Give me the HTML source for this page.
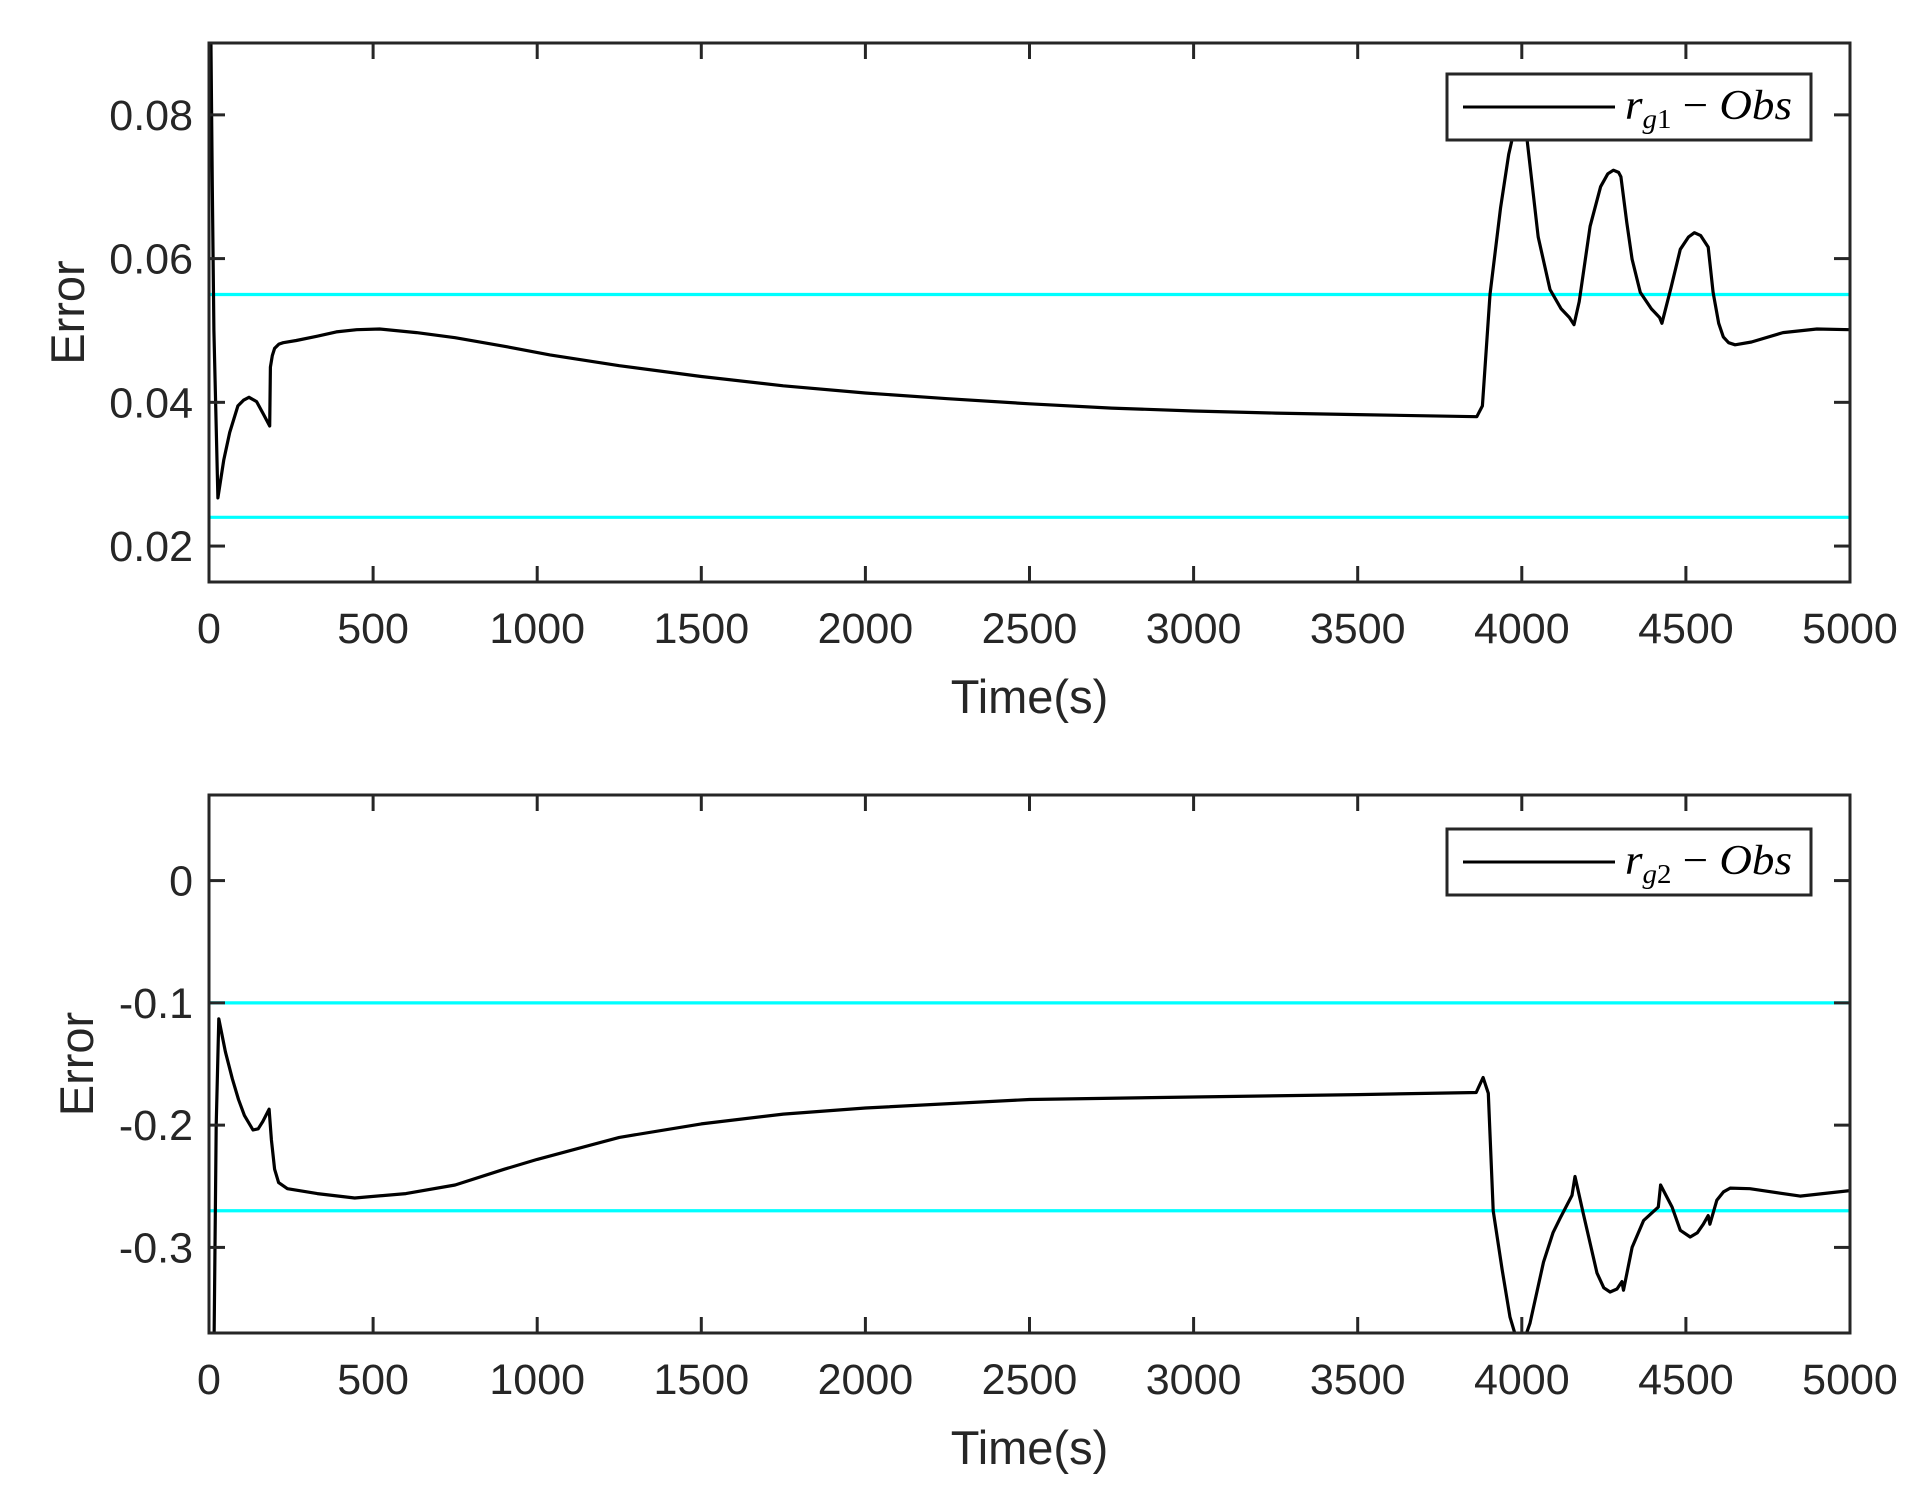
<!DOCTYPE html>
<html><head><meta charset="utf-8"><style>
html,body{margin:0;padding:0;background:#fff;}
svg{display:block;font-family:"Liberation Sans",sans-serif;}
</style></head><body>
<svg id="chart" width="1917" height="1493" viewBox="0 0 1917 1493" xmlns="http://www.w3.org/2000/svg"></svg>
<script>
const xTicks = [0,500,1000,1500,2000,2500,3000,3500,4000,4500,5000];
const y1Ticks = [0.02,0.04,0.06,0.08];
const y1Labels = ["0.02","0.04","0.06","0.08"];
const y2Ticks = [-0.3,-0.2,-0.1,0];
const y2Labels = ["-0.3","-0.2","-0.1","0"];
const bounds1 = [0.055, 0.024];
const bounds2 = [-0.1, -0.27];
const t1 = [0,5,10,15,27,45,63,88,105,122,145,165,185,187,193,200,213,226,266,330,388,450,520,632,750,900,1039,1250,1500,1750,2000,2250,2500,2750,3000,3250,3500,3863,3880,3903,3935,3960,3975,3989,4003,4016,4050,4086,4120,4145,4159,4175,4208,4240,4262,4279,4295,4302,4320,4336,4361,4395,4420,4427,4455,4483,4508,4526,4545,4568,4583,4600,4614,4630,4650,4700,4796,4899,5000];
const v1 = [0.095,0.095,0.07,0.05,0.0267,0.032,0.0358,0.0395,0.0403,0.0407,0.0401,0.0384,0.0367,0.0449,0.0465,0.0475,0.0481,0.0483,0.0486,0.0492,0.0498,0.0501,0.0502,0.0497,0.0490,0.0478,0.0466,0.0451,0.0436,0.0423,0.0413,0.0405,0.0398,0.0392,0.0388,0.0385,0.0383,0.0380,0.0395,0.0550,0.067,0.0745,0.0775,0.0790,0.0788,0.0765,0.0630,0.0557,0.0530,0.0518,0.0508,0.0540,0.0645,0.0700,0.0718,0.0723,0.0720,0.0714,0.0650,0.0599,0.0553,0.0530,0.0518,0.0510,0.0560,0.0613,0.0630,0.0636,0.0632,0.0616,0.0553,0.0510,0.0491,0.0483,0.0480,0.0484,0.0497,0.0502,0.0501];
const t2 = [0,15,22,30,50,71,90,108,134,150,164,183,190,200,212,239,330,444,600,750,900,1000,1250,1500,1750,2000,2500,3000,3500,3861,3882,3898,3913,3940,3964,3995,4025,4066,4095,4117,4153,4162,4187,4229,4250,4269,4290,4305,4310,4336,4371,4416,4423,4458,4483,4513,4535,4553,4568,4573,4594,4615,4635,4695,4848,5000];
const v2 = [-0.40,-0.39,-0.20,-0.113,-0.140,-0.162,-0.179,-0.192,-0.204,-0.203,-0.197,-0.187,-0.212,-0.236,-0.247,-0.252,-0.256,-0.2596,-0.256,-0.249,-0.236,-0.228,-0.210,-0.199,-0.191,-0.186,-0.179,-0.177,-0.175,-0.1733,-0.161,-0.174,-0.27,-0.318,-0.357,-0.385,-0.362,-0.312,-0.288,-0.276,-0.2575,-0.242,-0.272,-0.321,-0.333,-0.3365,-0.334,-0.328,-0.335,-0.300,-0.278,-0.267,-0.249,-0.267,-0.286,-0.2915,-0.288,-0.281,-0.274,-0.281,-0.2615,-0.2545,-0.2515,-0.252,-0.258,-0.2535];

const NS="http://www.w3.org/2000/svg";
const svg=document.getElementById('chart');
function mk(tag,attrs,parent){const e=document.createElementNS(NS,tag);for(const k in attrs)e.setAttribute(k,attrs[k]);(parent||svg).appendChild(e);return e;}

function panel(id,top,bottom,ymin,ymax,yTicks,yLabels,bounds,ts,vs,ylabX,legY,sub){
  const L=209,R=1850;
  const X=t=>L+(t-0)/5000*(R-L);
  const Y=v=>bottom-(v-ymin)/(ymax-ymin)*(bottom-top);
  const g=mk('g',{});
  
  
  const cp=mk('clipPath',{id:'clip'+id},g);
  mk('rect',{x:L,y:top,width:R-L,height:bottom-top},cp);
  bounds.forEach((b,i)=>{
    const l=mk('line',{x1:L,x2:R,y1:Y(b),y2:Y(b),stroke:'#00FFFF','stroke-width':3.2},g);
    
    
  });
  const d=ts.map((t,i)=>(i?'L':'M')+X(t).toFixed(1)+' '+Y(vs[i]).toFixed(1)).join(' ');
  const p=mk('path',{d:d,fill:'none',stroke:'#000','stroke-width':3.2,'stroke-linejoin':'round','clip-path':'url(#clip'+id+')'},g);
  
  
  const box=mk('rect',{x:L,y:top,width:R-L,height:bottom-top,fill:'none',stroke:'#262626','stroke-width':3},g);
  
  
  xTicks.forEach(t=>{
    const x=X(t);
    mk('line',{x1:x,x2:x,y1:bottom,y2:bottom-16,stroke:'#262626','stroke-width':3},g);
    mk('line',{x1:x,x2:x,y1:top,y2:top+16,stroke:'#262626','stroke-width':3},g);
    const tx=mk('text',{x:x,y:bottom+61,'text-anchor':'middle','font-size':43,fill:'#262626'},g);
    tx.textContent=t;
    
    
  });
  yTicks.forEach((v,i)=>{
    const y=Y(v);
    mk('line',{x1:L,x2:L+16,y1:y,y2:y,stroke:'#262626','stroke-width':3},g);
    mk('line',{x1:R,x2:R-16,y1:y,y2:y,stroke:'#262626','stroke-width':3},g);
    const tx=mk('text',{x:193,y:y+15,'text-anchor':'end','font-size':43,fill:'#262626'},g);
    tx.textContent=yLabels[i];
    
    
  });
  const xl=mk('text',{x:(L+R)/2,y:bottom+131,'text-anchor':'middle','font-size':47,fill:'#262626'},g);
  xl.textContent='Time(s)';
  
  
  const yc=(top+bottom)/2;
  const yl=mk('text',{x:ylabX,y:yc,'text-anchor':'middle','font-size':47,fill:'#262626',transform:'rotate(-90 '+ylabX+' '+yc+')'},g);
  yl.textContent='Error';
  
  
  const lg=mk('g',{},g);
  
  
  mk('rect',{x:1447,y:legY,width:364,height:66,fill:'#fff',stroke:'#262626','stroke-width':3},lg);
  mk('line',{x1:1463,x2:1615,y1:legY+33,y2:legY+33,stroke:'#000','stroke-width':3},lg);
  const lt=mk('text',{x:1625,y:legY+45,'font-size':42,'font-family':'"Liberation Serif",serif','font-style':'italic',fill:'#000',textLength:167,lengthAdjust:'spacingAndGlyphs'},lg);
  lt.innerHTML='r<tspan font-size="27" dy="9">g</tspan><tspan font-size="27" font-style="normal">'+sub+'</tspan><tspan dy="-9" font-style="normal"> − </tspan>Obs';
  
  
}
panel('1',43,582,0.015,0.09,y1Ticks,y1Labels,bounds1,t1,v1,84,74,'1');
panel('2',795,1333,-0.37,0.07,y2Ticks,y2Labels,bounds2,t2,v2,93,829,'2');
</script>
</body></html>
